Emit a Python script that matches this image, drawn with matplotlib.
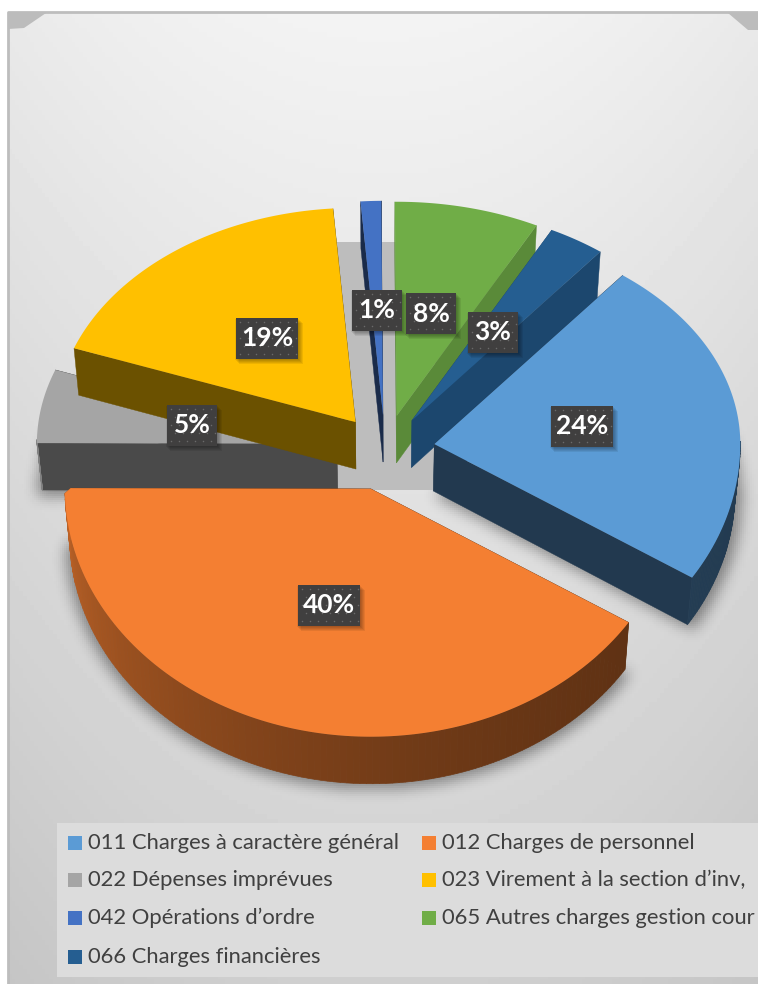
import numpy as np
from matplotlib import pyplot as plt
from matplotlib.patches import Polygon, Rectangle
from matplotlib.path import Path

labels = ["011 Charges à caractère général", "012 Charges de personnel",
          "022 Dépenses imprévues", "023 Virement à la section d’inv,",
          "042 Opérations d’ordre", "065 Autres charges gestion cour",
          "066 Charges financières"]
# printed percentages, and the slice sizes as measured on the picture
percents = [24, 40, 5, 19, 1, 8, 3]
shares = [23.5, 41.0, 5.55, 18.2, 1.1, 7.65, 3.0]
colors = ["#5b9bd5", "#f47f32", "#a5a5a5", "#ffc000", "#4472c4", "#70ad47", "#255e91"]
# how dark the cut faces of each slice are
edge_shades = [0.37, 0.40, 0.45, 0.42, 0.38, 0.80, 0.76]
draw_order = [2, 3, 4, 5, 6, 0, 1]

W, H = 758, 984
CX, CY = 385, 450
R = 306
EXPLODE = 50
DEPTH = 47
START = 52


def to_xy(t, r, ox=CX, oy=CY):
    """Tilted pie: the front half looks a bit taller than the back half."""
    t = np.radians(t)
    up = np.sin(t) > 1e-6
    k = np.where(up, 0.70, 0.81)
    # back left quarter sits a little further away
    kx = np.where(up & (np.cos(t) < 0), 0.98, 1.0)
    return ox + r * kx * np.cos(t), oy - r * k * np.sin(t)


def drop(x, y):
    return CX + (x - CX) * 0.985, y + DEPTH


def darker(color, f):
    rgb = np.array(plt.matplotlib.colors.to_rgb(color))
    return tuple(rgb * f)


def arc_shade(t):
    return 0.38 + 0.40 * (abs(t) / 180) ** 2


def blur(a, width=7, passes=3):
    box = np.ones(width) / width
    for _ in range(passes):
        a = np.apply_along_axis(np.convolve, 0, a, box, mode="same")
        a = np.apply_along_axis(np.convolve, 1, a, box, mode="same")
    return a


fig = plt.figure(figsize=(W / 100, H / 100), dpi=100)
ax = fig.add_axes([0, 0, 1, 1])
ax.set_xlim(0, W)
ax.set_ylim(H, 0)
ax.axis("off")

# background panel with its gradient and cut corners
yy, xx = np.mgrid[0:1:200j, -1:1:200j]
bg = 243 - 36 * yy - 10 * xx ** 2
ax.imshow(bg / 255, cmap="gray", vmin=0, vmax=1, extent=(8, W, H, 13), aspect="auto", zorder=0)
ax.plot([8, 8, W], [H, 12, 12], color="#bdbdbd", lw=2, zorder=1)
ax.add_patch(Polygon([(8, 12), (46, 13), (24, 28), (8, 29)], fc="#bcbcbc", ec="none", zorder=1))
ax.add_patch(Polygon([(728, 13), (W, 13), (W, 30), (748, 30)], fc="#bcbcbc", ec="none", zorder=1))

# work out the slices from the measured sizes
ends = START - np.cumsum(shares) * 3.6
starts = np.r_[START, ends[:-1]]
mids = (starts + ends) / 2
tips = [to_xy(m, EXPLODE) for m in mids]

# soft shadow under the pie, blurred from the slice outlines
gy_s, gx_s = np.mgrid[0:H:2, 0:W:2]
grid = np.c_[gx_s.ravel(), gy_s.ravel()]
mask = np.zeros(gx_s.shape)
for i in range(len(shares)):
    tx, ty = tips[i]
    ox, oy = to_xy(np.linspace(starts[i], ends[i], 60), R, tx, ty)
    outline = np.r_[[[tx, ty + DEPTH + 4]], np.c_[ox, oy + DEPTH + 4]]
    mask[Path(outline).contains_points(grid).reshape(mask.shape)] = 1
soft = np.zeros(mask.shape + (4,))
soft[..., 3] = blur(mask) * 0.42
ax.imshow(soft, extent=(0, W, H, 0), aspect="auto", zorder=2)
ax.set_xlim(0, W)
ax.set_ylim(H, 0)

# grey floor seen in the gap between slices
ax.add_patch(Rectangle((335, 242), 100, 248, fc="#bdbdbd", ec="none", zorder=3))

z = 4
for i in draw_order:
    tx, ty = tips[i]
    tt = np.linspace(starts[i], ends[i], 120)
    ox, oy = to_xy(tt, R, tx, ty)
    side = darker(colors[i], edge_shades[i])

    # the two cut faces
    for j in (0, -1):
        bx0, by0 = drop(tx, ty)
        bx1, by1 = drop(ox[j], oy[j])
        ax.add_patch(Polygon([(tx, ty), (ox[j], oy[j]), (bx1, by1), (bx0, by0)],
                             fc=side, ec=side, lw=0.3, zorder=z))
    # outer rim, only the front part shows
    for j in range(len(tt) - 1):
        if np.sin(np.radians(tt[j])) > 0.02:
            continue
        c = darker(colors[i], arc_shade(tt[j]))
        bx0, by0 = drop(ox[j], oy[j])
        bx1, by1 = drop(ox[j + 1], oy[j + 1])
        ax.add_patch(Polygon([(ox[j], oy[j]), (ox[j + 1], oy[j + 1]), (bx1, by1), (bx0, by0)],
                             fc=c, ec=c, lw=0.5, zorder=z))
    ax.add_patch(Polygon(np.r_[[[tx, ty]], np.c_[ox, oy]], fc=colors[i], ec="none", zorder=z + 1))
    z += 2

# percent labels
for i, v in enumerate(percents):
    lx, ly = to_xy(mids[i], 0.49 * R, *tips[i])
    w = 62 if v >= 10 else 50
    h = 41
    for g in range(5):
        ax.add_patch(Rectangle((lx - w / 2 - 1 + g, ly - h / 2 + 1 + g), w + 2, h,
                               fc="black", ec="none", alpha=0.07, zorder=30))
    ax.add_patch(Rectangle((lx - w / 2, ly - h / 2), w, h, fc="#403f3f", ec="none", zorder=31))
    gx, gy = np.meshgrid(np.arange(lx - w / 2 + 4, lx + w / 2 - 1, 8),
                         np.arange(ly - h / 2 + 4, ly + h / 2 - 1, 8))
    gx[1::2] += 4
    inside = gx.ravel() < lx + w / 2 - 1
    ax.scatter(gx.ravel()[inside], gy.ravel()[inside], s=1.2, c="#6a6a6a", lw=0, zorder=32)
    ax.text(lx, ly, f"{v}%", color="white", family="Lato", weight="bold", fontsize=19,
            ha="center", va="center", zorder=33)

# legend
ax.add_patch(Rectangle((57, 823), W - 57, 154, fc="#dcdcdc", ec="none", zorder=3))
legend_x = [68, 422]
legend_y = [843, 880, 918, 957]
for i, name in enumerate(labels):
    lx = legend_x[i % 2]
    ly = legend_y[i // 2]
    ax.add_patch(Rectangle((lx, ly - 7), 14, 14, fc=colors[i], ec="none", zorder=3))
    ax.text(lx + 20, ly, name, color="#404040", family="Lato", fontsize=15.8,
            ha="left", va="center", zorder=3)

fig.savefig("out.png", dpi=100)
